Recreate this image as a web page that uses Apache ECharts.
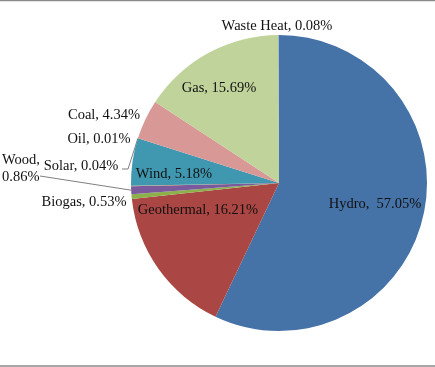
<!DOCTYPE html>
<html>
<head>
<meta charset="utf-8">
<script src="https://cdn.jsdelivr.net/npm/echarts@6/dist/echarts.min.js"></script>
<style>
html,body{margin:0;padding:0;background:#fff;}
#c{width:435px;height:367px;}
</style>
</head>
<body>
<div id="c"></div>
<script>
// Data (clockwise from 12 o'clock)
const categories = ['Hydro', 'Geothermal', 'Biogas', 'Wood', 'Solar', 'Wind', 'Oil', 'Coal', 'Gas', 'Waste Heat'];
const values = [57.05, 16.21, 0.53, 0.86, 0.04, 5.18, 0.01, 4.34, 15.69, 0.08];
const labelTexts = ['Hydro,  57.05%', 'Geothermal, 16.21%', 'Biogas, 0.53%', 'Wood,\n0.86%', 'Solar, 0.04%', 'Wind, 5.18%', 'Oil, 0.01%', 'Coal, 4.34%', 'Gas, 15.69%', 'Waste Heat, 0.08%'];

// Styling / layout
const colors = ['#4572A7', '#AA4643', '#8DB04A', '#7A5A9C', '#D98C3E', '#3F98B0', '#9E6BB0', '#D89896', '#BFD39A', '#8AA3BE'];
const CX = 279, CY = 183, R = 148;
const labelPos = {
  'Hydro': [375, 204], 'Geothermal': [198, 210], 'Biogas': [84, 202],
  'Wood': [20, 168], 'Solar': [81, 166], 'Wind': [174, 174],
  'Oil': [99, 139], 'Coal': [104, 115], 'Gas': [219, 88], 'Waste Heat': [277, 26]
};

const total = values.reduce((a, b) => a + b, 0);
function cumFrac(idx, half) {
  let s = 0;
  for (let i = 0; i < idx; i++) s += values[i];
  if (half) s += values[idx] / 2; else s += values[idx];
  return s / total;
}
function edgePoint(frac) {
  const a = frac * Math.PI * 2; // clockwise from top
  return [CX + R * Math.sin(a), CY - R * Math.cos(a)];
}

const leaderLines = {
  'Wood': () => [edgePoint(cumFrac(3, true)), [40, 176]],
  'Solar': () => [edgePoint(cumFrac(5, false)), [128, 169], [122, 169]]
};

const data = categories.map((c, i) => ({
  name: c,
  value: values[i],
  itemStyle: { color: colors[i] },
  label: { formatter: labelTexts[i], align: c === 'Wood' ? 'left' : 'center' },
  labelLine: { show: !!leaderLines[c] }
}));

const chart = echarts.init(document.getElementById('c'), null, { renderer: 'canvas' });
chart.setOption({
  animation: false,
  backgroundColor: '#fff',
  graphic: [
    { type: 'line', shape: { x1: 0, y1: 0.5, x2: 435, y2: 0.5 }, style: { stroke: '#8a8a8a', lineWidth: 1.5 } },
    { type: 'line', shape: { x1: 0, y1: 366, x2: 435, y2: 366 }, style: { stroke: '#8a8a8a', lineWidth: 1.5 } }
  ],
  series: [{
    type: 'pie',
    center: [CX, CY],
    radius: R,
    startAngle: 90,
    clockwise: true,
    avoidLabelOverlap: false,
    minShowLabelAngle: 0,
    data: data,
    itemStyle: { borderWidth: 0 },
    label: {
      show: true,
      position: 'outside',
      fontFamily: '"Liberation Serif", "Times New Roman", serif',
      fontSize: 14.5,
      color: '#111',
      lineHeight: 17
    },
    labelLine: { show: true, lineStyle: { color: '#7f7f7f', width: 1 }, length: 5, length2: 5 },
    labelLayout: function (params) {
      const name = categories[params.dataIndex];
      const p = labelPos[name];
      const res = { x: p[0], y: p[1] + 0.5, align: 'center', verticalAlign: 'middle' };
      if (name === 'Wood') { res.x = 2; res.align = 'left'; }
      if (leaderLines[name]) res.labelLinePoints = leaderLines[name]();
      return res;
    }
  }]
});
</script>
</body>
</html>
